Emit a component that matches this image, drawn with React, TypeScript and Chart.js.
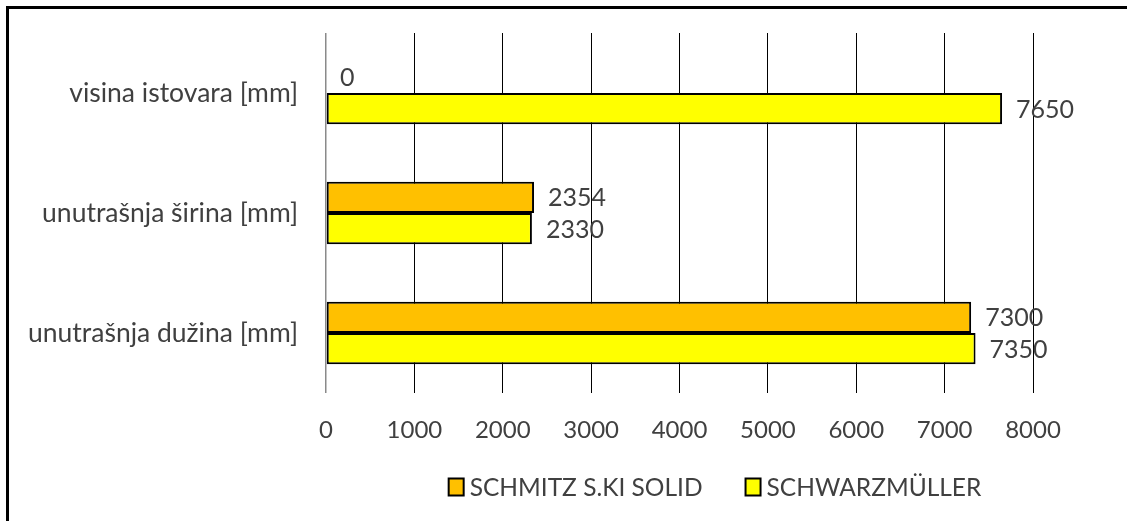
import React, { useEffect, useRef } from "react";
import { Chart, registerables } from "chart.js";

Chart.register(...registerables);

const categories = ["visina istovara [mm]", "unutrašnja širina [mm]", "unutrašnja dužina [mm]"];
const seriesNames = ["SCHMITZ S.KI SOLID", "SCHWARZMÜLLER"];
const schmitzValues = [0, 2354, 7300];
const schwarzValues = [7650, 2330, 7350];
const xTicks = [0, 1000, 2000, 3000, 4000, 5000, 6000, 7000, 8000];

const FONT = "Lato";
const TEXT = "#404040";

const labelPlugin = {
  id: "valueLabels",
  afterDatasetsDraw(chart: any) {
    const ctx = chart.ctx;
    ctx.save();
    ctx.font = `25px ${FONT}`;
    ctx.fillStyle = TEXT;
    ctx.textAlign = "left";
    ctx.textBaseline = "middle";
    chart.data.datasets.forEach((ds: any, di: number) => {
      const meta = chart.getDatasetMeta(di);
      meta.data.forEach((el: any, i: number) => {
        ctx.fillText(String(ds.data[i]), el.x + 14, el.y + 1);
      });
    });
    ctx.restore();
  },
};

const legendPlugin = {
  id: "customLegend",
  afterDraw(chart: any) {
    const ctx = chart.ctx;
    ctx.save();
    ctx.font = `24.5px ${FONT}`;
    const boxW = 15;
    const boxH = 17;
    const gapBoxText = 6;
    const gapItems = 43;
    const items = chart.data.datasets.map((ds: any) => ({
      text: ds.label,
      fill: ds.backgroundColor,
      w: boxW + gapBoxText + ctx.measureText(ds.label).width,
    }));
    const total = items.reduce((s: number, it: any) => s + it.w, 0) + gapItems * (items.length - 1);
    const centerX = 715;
    const cy = 487;
    let x = centerX - total / 2;
    items.forEach((it: any) => {
      ctx.fillStyle = it.fill;
      ctx.fillRect(x, cy - boxH / 2, boxW, boxH);
      ctx.lineWidth = 2;
      ctx.strokeStyle = "#000";
      ctx.strokeRect(x, cy - boxH / 2, boxW, boxH);
      ctx.fillStyle = TEXT;
      ctx.textAlign = "left";
      ctx.textBaseline = "middle";
      ctx.fillText(it.text, x + boxW + gapBoxText, cy + 1);
      x += it.w + gapItems;
    });
    ctx.restore();
  },
};

export default function App() {
  const ref = useRef<HTMLCanvasElement | null>(null);

  useEffect(() => {
    if (!ref.current) return;
    const chart = new Chart(ref.current, {
      type: "bar",
      data: {
        labels: categories,
        datasets: [
          {
            label: seriesNames[0],
            data: schmitzValues,
            backgroundColor: "#FFC000",
            borderColor: "#000000",
            borderWidth: (c: any) => (c.raw === 0 ? 0 : 2),
            borderSkipped: false,
          },
          {
            label: seriesNames[1],
            data: schwarzValues,
            backgroundColor: "#FFFF00",
            borderColor: "#000000",
            borderWidth: (c: any) => (c.raw === 0 ? 0 : 2),
            borderSkipped: false,
          },
        ],
      },
      options: {
        indexAxis: "y",
        animation: false,
        responsive: false,
        maintainAspectRatio: false,
        layout: { padding: { top: 33, right: 94, left: 0, bottom: 0 } },
        datasets: {
          bar: { barPercentage: 1, categoryPercentage: 0.52 },
        },
        plugins: {
          legend: { display: false },
          tooltip: { enabled: false },
          title: { display: false },
        },
        scales: {
          x: {
            min: 0,
            max: 8000,
            afterBuildTicks: (scale: any) => {
              scale.ticks = xTicks.map((v) => ({ value: v }));
            },
            afterFit: (scale: any) => {
              scale.height = 128;
              scale.paddingLeft = 0;
              scale.paddingRight = 0;
            },
            border: { display: false },
            grid: {
              drawTicks: false,
              color: (c: any) => (c.tick && c.tick.value === 0 ? "#8a8a8a" : "#000000"),
              lineWidth: (c: any) => (c.tick && c.tick.value === 0 ? 1.5 : 1),
            },
            ticks: {
              padding: 23,
              color: TEXT,
              font: { family: FONT, size: 24 },
              maxRotation: 0,
              autoSkip: false,
              callback: (v: any) => String(v),
            },
          },
          y: {
            afterFit: (scale: any) => {
              scale.width = 326;
              scale.paddingTop = 0;
              scale.paddingBottom = 0;
            },
            border: { display: false },
            grid: { display: false, drawTicks: false },
            ticks: {
              padding: 28,
              color: TEXT,
              font: { family: FONT, size: 26.5 },
            },
          },
        },
      },
      plugins: [labelPlugin, legendPlugin],
    });
    return () => chart.destroy();
  }, []);

  return (
    <div style={{ position: "fixed", left: 0, top: 0, width: 1127, height: 521, background: "#fff", overflow: "hidden" }}>
      <canvas ref={ref} width={1127} height={521} style={{ position: "absolute", left: 0, top: 0, width: 1127, height: 521 }} />
      <div
        style={{
          position: "absolute",
          left: 6,
          top: 6,
          width: 1121,
          height: 515,
          boxSizing: "border-box",
          borderTop: "3px solid #000",
          borderLeft: "3px solid #000",
          pointerEvents: "none",
        }}
      />
    </div>
  );
}
